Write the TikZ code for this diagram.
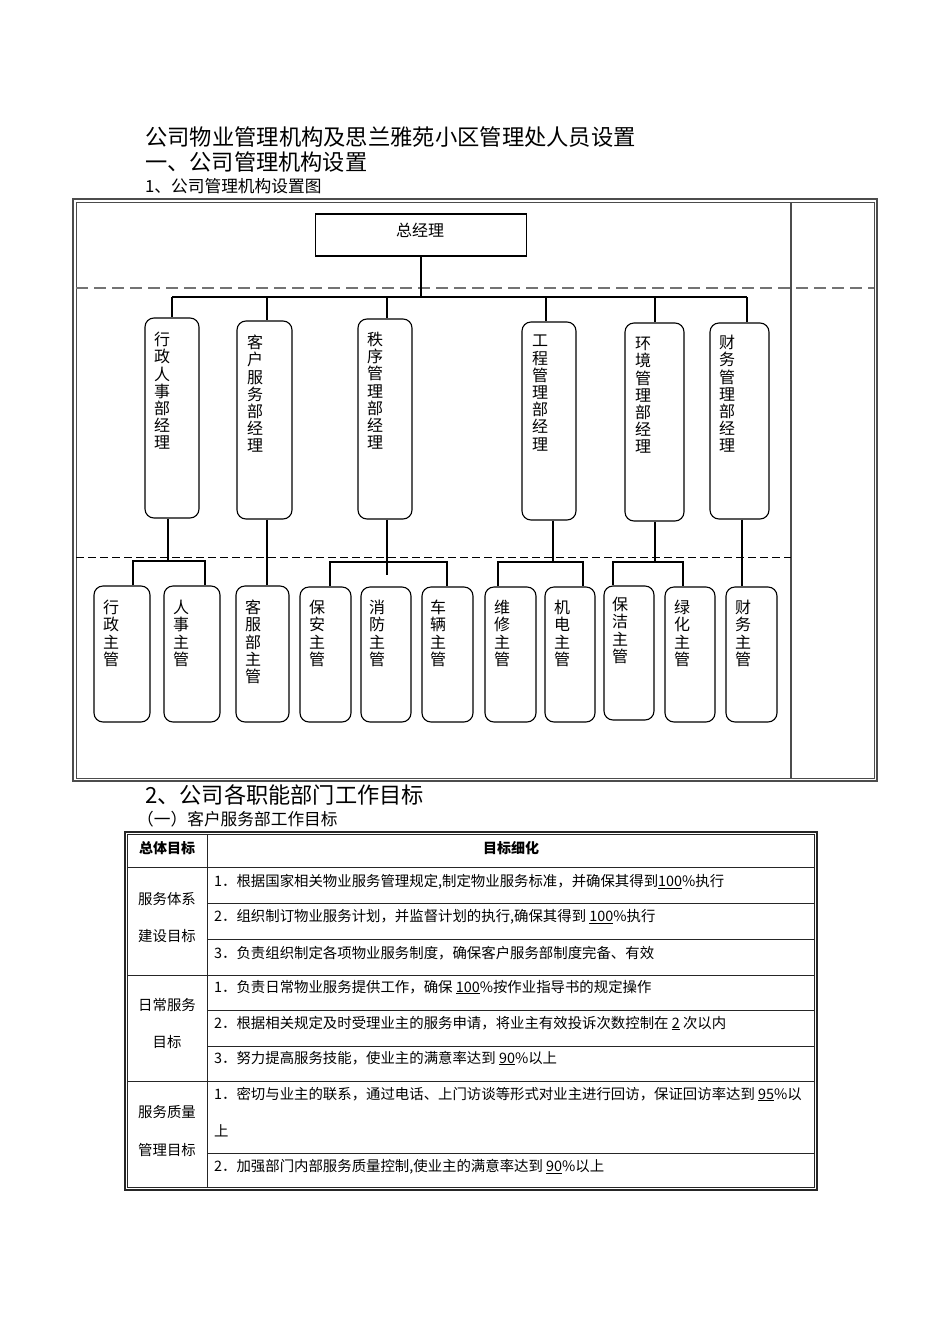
\documentclass[tikz,border=0pt]{standalone}
\usepackage{fontspec}
\setmainfont{Noto Sans CJK SC}
\begin{document}
\begin{tikzpicture}[x=1pt,y=-1pt,
  mbox/.style={draw, rounded corners=9pt, line width=1.1pt, inner sep=0pt},
  vt/.style={align=center, inner sep=0pt, anchor=north, font=\fontsize{16}{17.2}\selectfont},
  conn/.style={line width=2.6pt, line join=miter},
  frameline/.style={draw=black!70},
  tline/.style={line width=0.9pt, draw=black!85},
  ttext/.style={anchor=west, inner sep=0pt, font=\fontsize{14.4}{16}\selectfont},
  ctext/.style={inner sep=0pt, font=\fontsize{14.4}{16}\selectfont},
  htext/.style={inner sep=0pt, font=\fontsize{14}{16}\selectfont\bfseries},
  head/.style={anchor=west, inner sep=0pt}
]
\useasboundingbox (0,0) rectangle (950,1344);

% headings
\node[head, font=\fontsize{22.3}{24}\selectfont] (t1) at (145,137) {公司物业管理机构及思兰雅苑小区管理处人员设置};
\node[head, font=\fontsize{22.2}{24}\selectfont] (t2) at (145,162) {一、公司管理机构设置};
\node[head, font=\fontsize{16.7}{18}\selectfont] (t3) at (145,186) {1、公司管理机构设置图};

% frame
\draw[frameline, line width=1.3pt] (73,199) rectangle (877,781);
\draw[frameline, line width=0.8pt] (76,202) rectangle (874,778);
\draw[frameline, line width=1.3pt] (791,202) -- (791,778);
\draw[dash pattern=on 12pt off 6pt, line width=1.5pt, black!55] (76,288) -- (874,288);
\draw[dash pattern=on 8pt off 4pt, line width=0.9pt] (76,557) -- (791,557);

% general manager
\node[draw, line width=1.1pt, minimum width=211pt, minimum height=42pt, inner sep=0pt] (gm) at (421,235) {};
\node[inner sep=0pt, font=\fontsize{16}{18}\selectfont] (gmt) at (420,230) {总经理};

% middle boxes
\node[mbox, minimum width=54pt, minimum height=200pt] (m1) at (172,418) {};
\node[mbox, minimum width=55pt, minimum height=198pt] (m2) at (264.5,420) {};
\node[mbox, minimum width=54pt, minimum height=200pt] (m3) at (385,419) {};
\node[mbox, minimum width=54pt, minimum height=198pt] (m4) at (549,421) {};
\node[mbox, minimum width=59pt, minimum height=198pt] (m5) at (654.5,422) {};
\node[mbox, minimum width=59pt, minimum height=196pt] (m6) at (739.5,421) {};

\node[vt] (m1t) at (162,332) {行\\政\\人\\事\\部\\经\\理};
\node[vt] (m2t) at (255,335) {客\\户\\服\\务\\部\\经\\理};
\node[vt] (m3t) at (375,332) {秩\\序\\管\\理\\部\\经\\理};
\node[vt] (m4t) at (540,335) {工\\程\\管\\理\\部\\经\\理};
\node[vt] (m5t) at (643,337) {环\\境\\管\\理\\部\\经\\理};
\node[vt] (m6t) at (727,335) {财\\务\\管\\理\\部\\经\\理};

% lower boxes
\node[mbox, minimum width=56pt, minimum height=136pt] (b1) at (122,654) {};
\node[mbox, minimum width=56pt, minimum height=136pt] (b2) at (192,654) {};
\node[mbox, minimum width=53pt, minimum height=136pt] (b3) at (262.5,654) {};
\node[mbox, minimum width=51pt, minimum height=135pt] (b4) at (325.5,654.5) {};
\node[mbox, minimum width=50pt, minimum height=135pt] (b5) at (386,654.5) {};
\node[mbox, minimum width=51pt, minimum height=135pt] (b6) at (447.5,654.5) {};
\node[mbox, minimum width=51pt, minimum height=135pt] (b7) at (510.5,654.5) {};
\node[mbox, minimum width=50pt, minimum height=135pt] (b8) at (570,654.5) {};
\node[mbox, minimum width=50pt, minimum height=134pt] (b9) at (629,653) {};
\node[mbox, minimum width=50pt, minimum height=135pt] (b10) at (690,654.5) {};
\node[mbox, minimum width=51pt, minimum height=135pt] (b11) at (751.5,654.5) {};

\node[vt] (b1t) at (111,600) {行\\政\\主\\管};
\node[vt] (b2t) at (181,600) {人\\事\\主\\管};
\node[vt] (b3t) at (253,600) {客\\服\\部\\主\\管};
\node[vt] (b4t) at (317,600) {保\\安\\主\\管};
\node[vt] (b5t) at (377,600) {消\\防\\主\\管};
\node[vt] (b6t) at (438,600) {车\\辆\\主\\管};
\node[vt] (b7t) at (502,600) {维\\修\\主\\管};
\node[vt] (b8t) at (562,600) {机\\电\\主\\管};
\node[vt] (b9t) at (620,597) {保\\洁\\主\\管};
\node[vt] (b10t) at (682,600) {绿\\化\\主\\管};
\node[vt] (b11t) at (743,600) {财\\务\\主\\管};

% top connectors
\coordinate (j0) at (421,297);
\coordinate (busL) at (172,297);
\coordinate (busR) at (747,297);
\coordinate (d2) at (267,297);
\coordinate (d3) at (387,297);
\coordinate (d4) at (546,297);
\coordinate (d5) at (655,297);
\draw[conn] (gm.south) -- (j0);
\draw[conn] (busL) -- (busR);
\draw[conn] (busL) -- (m1.north);
\draw[conn] (d2) -- (m2.north -| d2);
\draw[conn] (d3) -- (m3.north -| d3);
\draw[conn] (d4) -- (m4.north -| d4);
\draw[conn] (d5) -- (m5.north -| d5);
\draw[conn] (busR) -- (m6.north -| busR);

% lower connectors
\coordinate (g1) at (168,561);
\coordinate (g1L) at (133,561);
\coordinate (g1R) at (205,561);
\draw[conn] (m1.south -| g1) -- (g1);
\draw[conn] (b1.north -| g1L) -- (g1L) -- (g1R) -- (b2.north -| g1R);

\coordinate (g2) at (267,561);
\draw[conn] (m2.south -| g2) -- (b3.north -| g2);

\coordinate (g3) at (387,575);
\coordinate (g3L) at (330,562);
\coordinate (g3R) at (447,562);
\draw[conn] (m3.south -| g3) -- (g3);
\draw[conn] (b4.north -| g3L) -- (g3L) -- (g3R) -- (b6.north -| g3R);

\coordinate (g4) at (553,562);
\coordinate (g4L) at (498,562);
\coordinate (g4R) at (583,562);
\draw[conn] (m4.south -| g4) -- (g4);
\draw[conn] (b7.north -| g4L) -- (g4L) -- (g4R) -- (b8.north -| g4R);

\coordinate (g5) at (655,562);
\coordinate (g5L) at (613,562);
\coordinate (g5R) at (683,562);
\draw[conn] (m5.south -| g5) -- (g5);
\draw[conn] (b9.north -| g5L) -- (g5L) -- (g5R) -- (b10.north -| g5R);

\coordinate (g6) at (742,561);
\draw[conn] (m6.south -| g6) -- (b11.north -| g6);

% section 2 headings
\node[head, font=\fontsize{22.2}{24}\selectfont] (t4) at (145,795) {2、公司各职能部门工作目标};
\node[head, font=\fontsize{16.7}{18}\selectfont] (t5) at (137,819) {（一）客户服务部工作目标};

% table
\draw[tline, line width=1.2pt] (125,832) rectangle (817,1190);
\draw[tline, line width=0.7pt] (127.5,834.5) rectangle (814.5,1187.5);
\draw[tline] (207,834) -- (207,1188);
\draw[tline] (127,867) -- (815,867);
\draw[tline] (127,975) -- (815,975);
\draw[tline] (127,1081) -- (815,1081);
\draw[tline] (207,903) -- (815,903);
\draw[tline] (207,939) -- (815,939);
\draw[tline] (207,1010) -- (815,1010);
\draw[tline] (207,1046) -- (815,1046);
\draw[tline] (207,1153) -- (815,1153);

\node[htext] (h1) at (167,848) {总体目标};
\node[htext] (h2) at (511,848) {目标细化};

\node[ctext] (l1a) at (167,899) {服务体系};
\node[ctext] (l1b) at (167,936) {建设目标};
\node[ctext] (l2a) at (167,1005) {日常服务};
\node[ctext] (l2b) at (167,1042) {目标};
\node[ctext] (l3a) at (167,1112) {服务质量};
\node[ctext] (l3b) at (167,1150) {管理目标};

\node[ttext] (r1a) at (214,882) {1．根据国家相关物业服务管理规定,制定物业服务标准，并确保其得到\underline{100}\%执行};
\node[ttext] (r1b) at (214,917) {2．组织制订物业服务计划，并监督计划的执行,确保其得到 \underline{100}\%执行};
\node[ttext] (r1c) at (214,953) {3．负责组织制定各项物业服务制度，确保客户服务部制度完备、有效};
\node[ttext] (r2a) at (214,987) {1．负责日常物业服务提供工作，确保 \underline{100}\%按作业指导书的规定操作};
\node[ttext] (r2b) at (214,1023) {2．根据相关规定及时受理业主的服务申请，将业主有效投诉次数控制在 \underline{2} 次以内};
\node[ttext] (r2c) at (214,1058) {3．努力提高服务技能，使业主的满意率达到 \underline{90}\%以上};
\node[ttext] (r3a) at (214,1094) {1．密切与业主的联系，通过电话、上门访谈等形式对业主进行回访，保证回访率达到 \underline{95}\%以};
\node[ttext] (r3a2) at (214,1131) {上};
\node[ttext] (r3b) at (214,1167) {2．加强部门内部服务质量控制,使业主的满意率达到 \underline{90}\%以上};
\end{tikzpicture}
\end{document}
